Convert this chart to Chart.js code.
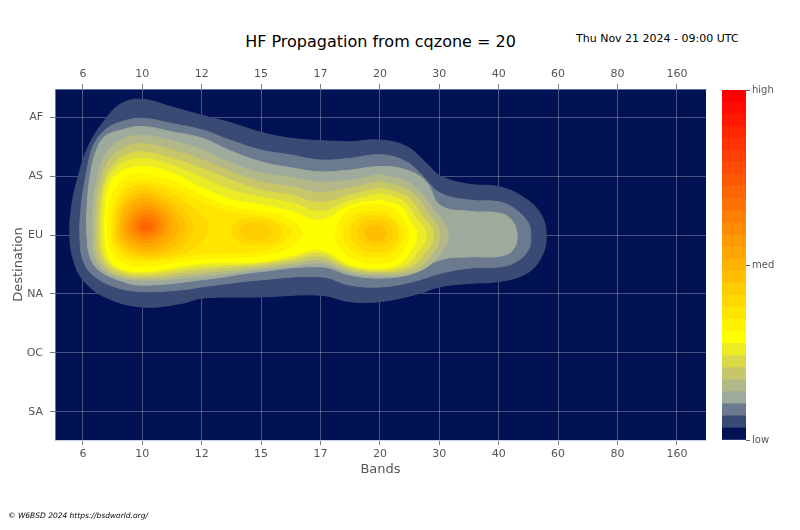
<!DOCTYPE html>
<html>
<head>
<meta charset="utf-8">
<script src="https://cdn.jsdelivr.net/npm/chart.js@4.4.1/dist/chart.umd.min.js"></script>
<style>
  html, body { margin: 0; padding: 0; background: #fff; }
  body { width: 800px; height: 530px; position: relative; overflow: hidden; font-family: "DejaVu Sans", sans-serif; }
  #main { position: absolute; left: 0; top: 0; }
  #cbar { position: absolute; left: 722px; top: 82px; }
  .txt { position: absolute; white-space: nowrap; }
  #titulo { left: 0; width: 761px; top: 31px; text-align: center; font-size: 16px; line-height: 22px; color: #000; }
  #data { left: 576px; top: 31px; font-size: 11px; line-height: 16px; color: #000; }
  #rodape { left: 8px; top: 511px; font-size: 7.5px; font-style: italic; color: #000; }
</style>
</head>
<body>
<div id="titulo" class="txt">HF Propagation from cqzone = 20</div>
<div id="data" class="txt">Thu Nov 21 2024 - 09:00 UTC</div>
<canvas id="main" width="800" height="530"></canvas>
<canvas id="cbar" width="78" height="366"></canvas>
<div id="rodape" class="txt">© W6BSD 2024 https://bsdworld.org/</div>
<script>
const bands = ["6", "10", "12", "15", "17", "20", "30", "40", "60", "80", "160"];
const destinations = ["AF", "AS", "EU", "NA", "OC", "SA"];
const colorbarTicks = ["low", "med", "high"];

// 29 niveis da escala (0 = fundo, 28 = high)
const levelColors = [
  "#011254", "#394a74", "#6b7a8f", "#9daa9c", "#b3b889", "#c7c76a", "#dada48", "#ecec26",
  "#ffff00", "#fff200", "#ffe500", "#ffd800", "#ffcc00", "#ffbf00", "#ffb200", "#ffa600",
  "#ff9900", "#ff8c00", "#ff7f00", "#ff7200", "#ff6600", "#ff5900", "#ff4c00", "#ff4000",
  "#ff3300", "#ff2600", "#ff1900", "#ff0c00", "#ff0000"
];

// contornos: [banda (indice), destino (indice)]
const c1 = [[4.5,0.42],[5.0,0.39],[5.45,0.5],[5.78,0.78],[6.02,1.0],[6.5,1.14],[7.0,1.18],[7.4,1.35],[7.7,1.63],[7.8,2.0],[7.72,2.37],[7.47,2.65],[7.0,2.79],[6.5,2.82],[6.0,2.88],[5.67,2.99],[5.0,3.13],[4.5,3.13],[4.0,3.02],[3.0,3.05],[2.0,3.07],[1.66,3.16],[1.0,3.22],[0.37,3.05],[0,2.76],[-0.16,2.42],[-0.22,2.03],[-0.19,1.52],[-0.08,1.01],[0.09,0.5],[0.37,0.05],[0.65,-0.23],[1.0,-0.30],[1.5,-0.17],[2.0,-0.03],[2.5,0.1],[3.0,0.26],[3.5,0.36],[4.0,0.40],[4.5,0.42]];
const c2 = [[4.5,0.7],[5.03,0.64],[5.45,0.76],[5.7,0.98],[6.02,1.29],[6.52,1.41],[7.02,1.44],[7.3,1.58],[7.5,1.8],[7.54,2.0],[7.5,2.25],[7.3,2.45],[7.02,2.54],[6.52,2.56],[6.02,2.65],[5.56,2.79],[5.03,2.88],[4.5,2.85],[4.02,2.71],[3.0,2.76],[2.0,2.88],[1.66,2.93],[1.0,2.96],[0.54,2.88],[0.17,2.68],[0,2.42],[-0.05,2.03],[-0.03,1.52],[0.06,0.95],[0.17,0.5],[0.37,0.22],[0.65,0.08],[1.0,0.02],[1.49,0.11],[2.01,0.22],[2.5,0.4],[3.0,0.56],[3.48,0.64],[4.02,0.73],[4.5,0.7]];
const c3 = [[4.5,0.9],[5.03,0.84],[5.45,0.9],[5.78,1.1],[6.02,1.5],[6.52,1.6],[7.02,1.63],[7.22,1.75],[7.31,2.0],[7.24,2.25],[7.02,2.36],[6.52,2.37],[6.02,2.42],[5.56,2.65],[5.03,2.73],[4.5,2.68],[4.02,2.54],[3.0,2.62],[2.0,2.76],[1.0,2.85],[0.59,2.76],[0.26,2.59],[0.12,2.37],[0.07,2.03],[0.07,1.52],[0.13,0.95],[0.23,0.56],[0.37,0.33],[0.65,0.22],[1.0,0.16],[1.49,0.25],[2.01,0.36],[2.5,0.58],[3.0,0.76],[3.5,0.86],[4.02,0.93],[4.5,0.9]];
const c4 = [[5.0,0.97],[5.5,1.12],[5.9,1.55],[6.15,2.0],[5.9,2.45],[5.5,2.66],[5.0,2.69],[4.5,2.64],[4.0,2.48],[3.5,2.53],[3.0,2.58],[2.0,2.7],[1.0,2.77],[0.55,2.7],[0.3,2.55],[0.18,2.3],[0.16,2.0],[0.17,1.5],[0.25,1.0],[0.4,0.6],[0.65,0.38],[1.0,0.31],[1.5,0.4],[2.0,0.55],[2.5,0.78],[3.0,0.95],[3.5,1.02],[4.0,1.1],[4.5,1.07],[5.0,0.97]];
const c5 = [[5.0,1.09],[5.5,1.25],[5.8,1.6],[6.01,2.0],[5.8,2.42],[5.5,2.6],[5.0,2.65],[4.5,2.6],[4.0,2.42],[3.5,2.48],[3.0,2.54],[2.0,2.64],[1.0,2.73],[0.55,2.66],[0.33,2.5],[0.23,2.28],[0.22,2.0],[0.23,1.5],[0.31,1.05],[0.45,0.72],[0.7,0.52],[1.0,0.45],[1.5,0.56],[2.0,0.72],[2.5,0.93],[3.0,1.1],[3.5,1.18],[4.0,1.28],[4.5,1.2],[5.0,1.09]];
const c6 = [[5.0,1.2],[5.45,1.35],[5.7,1.65],[5.9,2.0],[5.7,2.38],[5.45,2.56],[5.0,2.62],[4.5,2.56],[4.0,2.36],[3.5,2.43],[3.0,2.5],[2.0,2.58],[1.0,2.69],[0.58,2.62],[0.37,2.46],[0.29,2.25],[0.27,2.0],[0.29,1.5],[0.36,1.1],[0.5,0.82],[0.72,0.65],[1.0,0.59],[1.5,0.7],[2.0,0.87],[2.5,1.07],[3.0,1.24],[3.5,1.32],[4.0,1.45],[4.5,1.32],[5.0,1.2]];
const c7 = [[5.0,1.3],[5.4,1.43],[5.6,1.7],[5.78,2.0],[5.6,2.35],[5.4,2.52],[5.0,2.59],[4.5,2.53],[4.0,2.3],[3.5,2.39],[3.0,2.47],[2.0,2.53],[1.0,2.65],[0.6,2.58],[0.4,2.42],[0.33,2.22],[0.32,2.0],[0.33,1.5],[0.39,1.12],[0.54,0.88],[0.75,0.75],[1.0,0.7],[1.5,0.82],[2.0,1.03],[2.5,1.24],[3.0,1.36],[3.5,1.45],[4.0,1.6],[4.5,1.42],[5.0,1.3]];
const c8 = [[5.0,1.41],[5.35,1.52],[5.5,1.75],[5.62,2.0],[5.5,2.3],[5.3,2.5],[5.0,2.56],[4.5,2.5],[4.0,2.25],[3.5,2.35],[3.0,2.45],[2.5,2.46],[2.0,2.48],[1.5,2.55],[1.0,2.62],[0.6,2.55],[0.42,2.35],[0.37,2.0],[0.38,1.5],[0.44,1.18],[0.6,0.95],[1.0,0.84],[1.5,0.95],[2.0,1.2],[2.5,1.4],[3.0,1.49],[3.5,1.6],[4.0,1.75],[4.5,1.5],[5.0,1.41]];
const c9a = [[1.0,0.96],[1.5,1.08],[2.0,1.32],[2.5,1.52],[3.0,1.6],[3.4,1.7],[3.7,1.95],[3.45,2.22],[3.0,2.35],[2.5,2.38],[2.0,2.4],[1.5,2.47],[1.0,2.53],[0.65,2.45],[0.48,2.28],[0.42,2.0],[0.45,1.5],[0.55,1.2],[0.75,1.02],[1.0,0.96]];
const c9b = [[5.0,1.48],[5.3,1.6],[5.48,2.0],[5.3,2.38],[5.0,2.48],[4.7,2.45],[4.4,2.3],[4.25,2.0],[4.4,1.65],[4.7,1.5],[5.0,1.48]];
const c10a = [[1.0,1.07],[1.5,1.2],[2.0,1.45],[2.5,1.62],[3.0,1.68],[3.35,1.8],[3.5,1.95],[3.3,2.15],[3.0,2.27],[2.5,2.3],[2.0,2.32],[1.5,2.4],[1.0,2.45],[0.65,2.35],[0.5,2.15],[0.48,1.95],[0.55,1.45],[0.75,1.15],[1.0,1.07]];
const c10b = [[4.9,1.6],[5.15,1.65],[5.39,1.98],[5.2,2.3],[4.9,2.37],[4.55,2.27],[4.38,1.98],[4.55,1.68],[4.9,1.6]];
const c11a = [[1.05,1.15],[1.45,1.28],[1.85,1.55],[2.1,1.85],[1.9,2.2],[1.5,2.35],[1.0,2.4],[0.7,2.3],[0.55,2.1],[0.52,1.9],[0.6,1.45],[0.8,1.2],[1.05,1.15]];
const c11b = [[4.92,1.67],[5.18,1.73],[5.3,1.97],[5.18,2.22],[4.92,2.28],[4.65,2.2],[4.5,1.97],[4.65,1.72],[4.92,1.67]];
const c11c = [[2.9,1.72],[3.2,1.78],[3.35,1.95],[3.2,2.12],[2.9,2.16],[2.65,2.12],[2.5,1.95],[2.65,1.75],[2.9,1.72]];
const c12a = [[1.1,1.23],[1.45,1.38],[1.75,1.62],[1.85,1.9],[1.7,2.17],[1.4,2.32],[1.0,2.35],[0.72,2.25],[0.58,2.08],[0.56,1.88],[0.65,1.45],[0.85,1.27],[1.1,1.23]];
const c12b = [[4.92,1.75],[5.12,1.8],[5.22,1.97],[5.1,2.15],[4.92,2.18],[4.74,2.13],[4.63,1.97],[4.75,1.78],[4.92,1.75]];
const c12c = [[2.9,1.8],[3.08,1.84],[3.15,1.94],[3.05,2.06],[2.88,2.08],[2.72,2.04],[2.65,1.94],[2.75,1.82],[2.9,1.8]];
const c13a = [[1.12,1.3],[1.42,1.45],[1.65,1.67],[1.72,1.88],[1.6,2.12],[1.35,2.27],[1.0,2.3],[0.75,2.2],[0.62,2.05],[0.6,1.87],[0.7,1.5],[0.9,1.33],[1.12,1.3]];
const c13b = [[4.93,1.83],[5.05,1.87],[5.1,1.97],[5.03,2.08],[4.92,2.1],[4.8,2.06],[4.75,1.97],[4.82,1.85],[4.93,1.83]];
const c14 = [[1.12,1.37],[1.38,1.5],[1.55,1.7],[1.6,1.88],[1.5,2.08],[1.3,2.22],[1.02,2.25],[0.78,2.16],[0.66,2.02],[0.64,1.87],[0.72,1.55],[0.92,1.39],[1.12,1.37]];
const c15 = [[1.12,1.44],[1.33,1.55],[1.47,1.72],[1.5,1.87],[1.42,2.04],[1.25,2.16],[1.03,2.19],[0.82,2.11],[0.71,2.0],[0.69,1.86],[0.77,1.6],[0.94,1.46],[1.12,1.44]];
const c16 = [[1.12,1.51],[1.29,1.6],[1.4,1.74],[1.42,1.87],[1.35,2.0],[1.2,2.1],[1.04,2.13],[0.86,2.06],[0.77,1.97],[0.74,1.86],[0.82,1.65],[0.96,1.53],[1.12,1.51]];
const c17 = [[1.11,1.58],[1.25,1.65],[1.33,1.76],[1.35,1.87],[1.29,1.98],[1.17,2.05],[1.04,2.07],[0.9,2.02],[0.82,1.95],[0.8,1.86],[0.86,1.69],[0.98,1.6],[1.11,1.58]];
const c18 = [[1.1,1.65],[1.21,1.7],[1.27,1.79],[1.28,1.87],[1.23,1.96],[1.14,2.01],[1.04,2.02],[0.94,1.98],[0.88,1.93],[0.86,1.86],[0.9,1.73],[1.0,1.66],[1.1,1.65]];
const c19 = [[1.1,1.71],[1.17,1.75],[1.21,1.81],[1.22,1.87],[1.18,1.93],[1.11,1.97],[1.03,1.97],[0.96,1.94],[0.93,1.9],[0.92,1.86],[0.95,1.77],[1.02,1.72],[1.1,1.71]];
const c20 = [[1.07,1.78],[1.12,1.8],[1.16,1.86],[1.13,1.91],[1.07,1.93],[1.01,1.91],[0.98,1.86],[1.01,1.8],[1.07,1.78]];

// nivel de cada contorno
const contornos = [
  [1, c1], [2, c2], [3, c3], [4, c4], [5, c5], [6, c6], [7, c7], [8, c8],
  [9, c9a], [9, c9b], [10, c10a], [10, c10b],
  [11, c11a], [11, c11b], [11, c11c], [12, c12a], [12, c12b], [12, c12c],
  [13, c13a], [13, c13b], [14, c14], [15, c15], [16, c16], [17, c17],
  [18, c18], [19, c19], [20, c20]
];

Chart.defaults.font.family = "'DejaVu Sans', sans-serif";
Chart.defaults.color = "#555";

const fundoPlot = {
  id: "fundoPlot",
  beforeDraw(chart) {
    const { ctx, chartArea: a } = chart;
    ctx.save();
    ctx.fillStyle = levelColors[0];
    ctx.fillRect(a.left, a.top, a.width, a.height);
    ctx.restore();
  }
};

const titulosEixos = {
  id: "titulosEixos",
  afterDraw(chart) {
    const { ctx, chartArea: a } = chart;
    ctx.save();
    ctx.fillStyle = "#555";
    ctx.font = "13px 'DejaVu Sans'";
    ctx.textAlign = "center";
    ctx.textBaseline = "middle";
    ctx.fillText("Bands", (a.left + a.right) / 2, a.bottom + 30);
    ctx.translate(19, (a.top + a.bottom) / 2);
    ctx.rotate(-Math.PI / 2);
    ctx.fillText("Destination", 0, 0);
    ctx.restore();
  }
};

const datasets = contornos.map(([nivel, pts]) => ({
  data: pts.map(([x, y]) => ({ x, y })),
  showLine: true,
  fill: "shape",
  backgroundColor: levelColors[nivel],
  borderColor: levelColors[nivel],
  borderWidth: 1,
  pointRadius: 0,
  pointHoverRadius: 0,
  tension: 0.4,
  order: -nivel
}));

const gridCfg = {
  color: "rgba(255,255,255,0.28)",
  lineWidth: 1,
  tickLength: 5,
  tickColor: "#777"
};

const eixoX = (pos) => ({
  type: "linear",
  position: pos,
  min: -0.47,
  max: 10.49,
  z: 1,
  afterBuildTicks: s => { s.ticks = bands.map((b, i) => ({ value: i })); },
  afterFit: s => { s.height = 30; },
  ticks: {
    callback: v => bands[v],
    autoSkip: false,
    maxRotation: 0,
    padding: 3,
    font: { size: 11 },
    color: "#555"
  },
  grid: pos === "top" ? { ...gridCfg, drawOnChartArea: false } : gridCfg,
  border: { display: true, color: "rgba(160,180,220,0.6)" }
});

new Chart(document.getElementById("main"), {
  type: "scatter",
  data: { datasets },
  options: {
    responsive: false,
    animation: false,
    events: [],
    layout: { padding: { left: 0, top: 59, right: 94, bottom: 60 } },
    plugins: { legend: { display: false }, tooltip: { enabled: false } },
    scales: {
      x: eixoX("bottom"),
      x2: eixoX("top"),
      y: {
        type: "linear",
        reverse: true,
        min: -0.475,
        max: 5.475,
        z: 1,
        afterBuildTicks: s => { s.ticks = destinations.map((d, i) => ({ value: i })); },
        afterFit: s => { s.width = 55; },
        ticks: {
          callback: v => destinations[v],
          autoSkip: false,
          padding: 7,
          font: { size: 11 },
          color: "#555"
        },
        grid: gridCfg,
        border: { display: true, color: "rgba(160,180,220,0.6)" }
      }
    }
  },
  plugins: [fundoPlot, titulosEixos]
});

// ─── barra de cores ───
const nNiveis = levelColors.length;
new Chart(document.getElementById("cbar"), {
  type: "bar",
  data: {
    labels: [""],
    datasets: levelColors.map(c => ({
      data: [1],
      backgroundColor: c,
      borderWidth: 0,
      barPercentage: 1,
      categoryPercentage: 1
    }))
  },
  options: {
    responsive: false,
    animation: false,
    events: [],
    layout: { padding: { top: 8, bottom: 8, left: 0, right: 0 } },
    plugins: { legend: { display: false }, tooltip: { enabled: false } },
    scales: {
      x: { stacked: true, display: false },
      y: {
        stacked: true,
        position: "right",
        min: 0,
        max: nNiveis,
        afterBuildTicks: s => {
          s.ticks = [0, nNiveis / 2, nNiveis].map(v => ({ value: v }));
        },
        afterFit: s => { s.width = 54; },
        ticks: {
          callback: v => colorbarTicks[Math.round(v / (nNiveis / 2))],
          autoSkip: false,
          padding: 2,
          font: { size: 10 },
          color: "#555"
        },
        grid: { drawOnChartArea: false, tickLength: 4, tickColor: "#666" },
        border: { display: false }
      }
    }
  }
});
</script>
</body>
</html>
